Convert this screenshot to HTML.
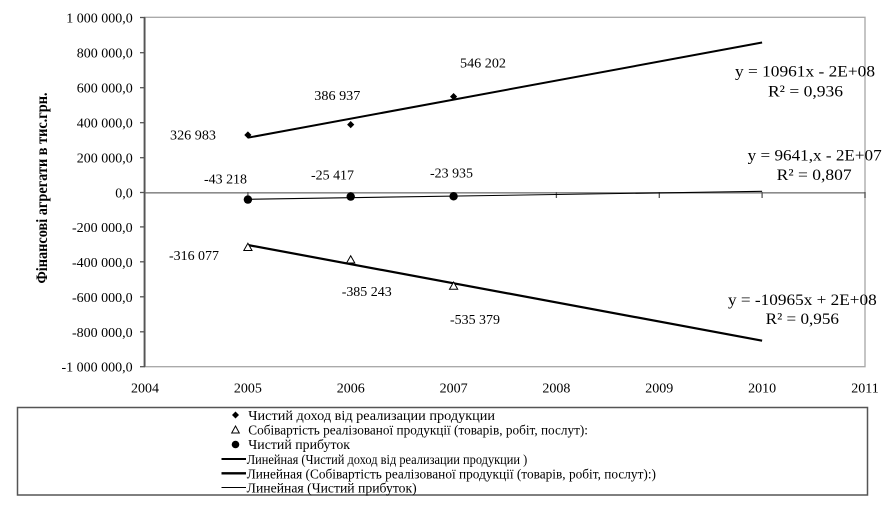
<!DOCTYPE html>
<html><head><meta charset="utf-8"><style>
html,body{margin:0;padding:0;background:#fff;}
svg{display:block;}
text{font-family:"Liberation Serif","DejaVu Serif",serif;fill:#000;}
</style></head><body>
<svg width="888" height="511" viewBox="0 0 888 511" xmlns="http://www.w3.org/2000/svg">
<!-- plot area border -->
<rect x="145" y="17.3" width="720" height="349.4" fill="none" stroke="#a6a6a6" stroke-width="1.3"/>
<!-- zero line -->
<line x1="145" y1="192.8" x2="865" y2="192.8" stroke="#8c8c8c" stroke-width="1.6"/>
<!-- left axis -->
<line x1="144.5" y1="17" x2="144.5" y2="367" stroke="#555" stroke-width="1.8"/>
<!-- y ticks -->
<g stroke="#555" stroke-width="1.3">
<line x1="140" y1="17.5" x2="145" y2="17.5"/>
<line x1="140" y1="52.7" x2="145" y2="52.7"/>
<line x1="140" y1="87.7" x2="145" y2="87.7"/>
<line x1="140" y1="122.7" x2="145" y2="122.7"/>
<line x1="140" y1="157.7" x2="145" y2="157.7"/>
<line x1="140" y1="192.5" x2="145" y2="192.5"/>
<line x1="140" y1="226.9" x2="145" y2="226.9"/>
<line x1="140" y1="261.8" x2="145" y2="261.8"/>
<line x1="140" y1="296.8" x2="145" y2="296.8"/>
<line x1="140" y1="331.8" x2="145" y2="331.8"/>
<line x1="140" y1="366.7" x2="145" y2="366.7"/>
</g>
<!-- x ticks -->
<g stroke="#555" stroke-width="1.3">
<line x1="247.9" y1="192" x2="247.9" y2="198"/>
<line x1="350.7" y1="192" x2="350.7" y2="198"/>
<line x1="453.6" y1="192" x2="453.6" y2="198"/>
<line x1="556.4" y1="192" x2="556.4" y2="198"/>
<line x1="659.3" y1="192" x2="659.3" y2="198"/>
<line x1="762.1" y1="192" x2="762.1" y2="198"/>
<line x1="865" y1="192" x2="865" y2="198"/>
</g>
<!-- y tick labels -->
<g font-size="14" text-anchor="end">
<text x="132.7" y="22.5">1 000 000,0</text>
<text x="132.7" y="57.7">800 000,0</text>
<text x="132.7" y="92.7">600 000,0</text>
<text x="132.7" y="127.7">400 000,0</text>
<text x="132.7" y="162.7">200 000,0</text>
<text x="132.7" y="197.3">0,0</text>
<text x="132.7" y="231.9">-200 000,0</text>
<text x="132.7" y="266.8">-400 000,0</text>
<text x="132.7" y="301.8">-600 000,0</text>
<text x="132.7" y="336.8">-800 000,0</text>
<text x="132.7" y="371.7">-1 000 000,0</text>
</g>
<!-- x tick labels -->
<g font-size="14" text-anchor="middle">
<text x="145" y="392.5">2004</text>
<text x="247.9" y="392.5">2005</text>
<text x="350.7" y="392.5">2006</text>
<text x="453.6" y="392.5">2007</text>
<text x="556.4" y="392.5">2008</text>
<text x="659.3" y="392.5">2009</text>
<text x="762.1" y="392.5">2010</text>
<text x="865" y="392.5">2011</text>
</g>
<!-- y axis title -->
<text transform="translate(47,188) rotate(-90)" font-size="16" font-weight="bold" text-anchor="middle" textLength="191" lengthAdjust="spacingAndGlyphs">Фінансові агрегати в тис.грн.</text>

<!-- trendlines -->
<line x1="247.9" y1="137.7" x2="762.1" y2="42.5" stroke="#000" stroke-width="2"/>
<line x1="247.9" y1="245" x2="762.1" y2="340.7" stroke="#000" stroke-width="2.2"/>
<line x1="247.9" y1="199.3" x2="762.1" y2="191.3" stroke="#000" stroke-width="1.1"/>

<!-- diamonds -->
<g fill="#000">
<path d="M247.9 131.4 L251.5 135 L247.9 138.6 L244.3 135 Z"/>
<path d="M350.7 121 L354.3 124.6 L350.7 128.2 L347.1 124.6 Z"/>
<path d="M453.6 93 L457.2 96.6 L453.6 100.2 L450 96.6 Z"/>
</g>
<!-- triangles -->
<g fill="#fff" stroke="#000" stroke-width="1">
<path d="M247.9 243.3 L252 250.5 L243.8 250.5 Z"/>
<path d="M350.7 255.8 L354.8 263 L346.6 263 Z"/>
<path d="M453.6 282 L457.7 289.2 L449.5 289.2 Z"/>
</g>
<!-- circles -->
<g fill="#000">
<circle cx="247.9" cy="199.6" r="4.2"/>
<circle cx="350.7" cy="196.6" r="4.2"/>
<circle cx="453.6" cy="196.3" r="4.2"/>
</g>

<!-- data labels -->
<g font-size="14">
<text x="170" y="139.5" textLength="46" lengthAdjust="spacingAndGlyphs">326 983</text>
<text x="314.3" y="100" textLength="46" lengthAdjust="spacingAndGlyphs">386 937</text>
<text x="460" y="67.5" textLength="46" lengthAdjust="spacingAndGlyphs">546 202</text>
<text x="204" y="183.3" textLength="43" lengthAdjust="spacingAndGlyphs">-43 218</text>
<text x="311" y="179.3" textLength="43" lengthAdjust="spacingAndGlyphs">-25 417</text>
<text x="430" y="177.3" textLength="43" lengthAdjust="spacingAndGlyphs">-23 935</text>
<text x="169" y="260" textLength="50" lengthAdjust="spacingAndGlyphs">-316 077</text>
<text x="341.7" y="296" textLength="50" lengthAdjust="spacingAndGlyphs">-385 243</text>
<text x="450" y="324" textLength="50" lengthAdjust="spacingAndGlyphs">-535 379</text>
</g>

<!-- equations -->
<g font-size="16">
<text x="735" y="76.7" textLength="140" lengthAdjust="spacingAndGlyphs">y = 10961x - 2E+08</text>
<text x="768" y="96.6" textLength="75" lengthAdjust="spacingAndGlyphs">R² = 0,936</text>
<text x="747.7" y="160.6" textLength="134" lengthAdjust="spacingAndGlyphs">y = 9641,x - 2E+07</text>
<text x="776.7" y="180.2" textLength="75" lengthAdjust="spacingAndGlyphs">R² = 0,807</text>
<text x="728" y="304.8" textLength="148.7" lengthAdjust="spacingAndGlyphs">y = -10965x + 2E+08</text>
<text x="765.7" y="324.2" textLength="73.3" lengthAdjust="spacingAndGlyphs">R² = 0,956</text>
</g>

<!-- legend -->
<rect x="17.5" y="407.5" width="850" height="87.5" fill="#fff" stroke="#555" stroke-width="1.5"/>
<path d="M235.5 411.5 L239 415 L235.5 418.5 L232 415 Z" fill="#000"/>
<path d="M235.5 426 L239.3 433 L231.7 433 Z" fill="#fff" stroke="#000" stroke-width="1"/>
<circle cx="235.5" cy="444.5" r="3.8" fill="#000"/>
<line x1="221.5" y1="459" x2="246" y2="459" stroke="#000" stroke-width="2"/>
<line x1="221.5" y1="473.3" x2="246" y2="473.3" stroke="#000" stroke-width="2.4"/>
<line x1="221.5" y1="487.5" x2="246" y2="487.5" stroke="#000" stroke-width="1"/>
<g font-size="13.5">
<text x="248.3" y="420" textLength="246.7" lengthAdjust="spacingAndGlyphs">Чистий доход  від реализации продукции</text>
<text x="248.3" y="434.3" textLength="339.7" lengthAdjust="spacingAndGlyphs">Собівартість реалізованої продукції (товарів, робіт, послут):</text>
<text x="248.3" y="449" textLength="101.7" lengthAdjust="spacingAndGlyphs">Чистий прибуток</text>
<text x="246.7" y="464" textLength="280.6" lengthAdjust="spacingAndGlyphs">Линейная (Чистий доход  від реализации продукции  )</text>
<text x="246.7" y="478.3" textLength="409.3" lengthAdjust="spacingAndGlyphs">Линейная (Собівартість реалізованої продукції (товарів, робіт, послут):)</text>
<text x="246.7" y="492.7" textLength="170" lengthAdjust="spacingAndGlyphs">Линейная (Чистий прибуток)</text>
</g>
</svg>
</body></html>
